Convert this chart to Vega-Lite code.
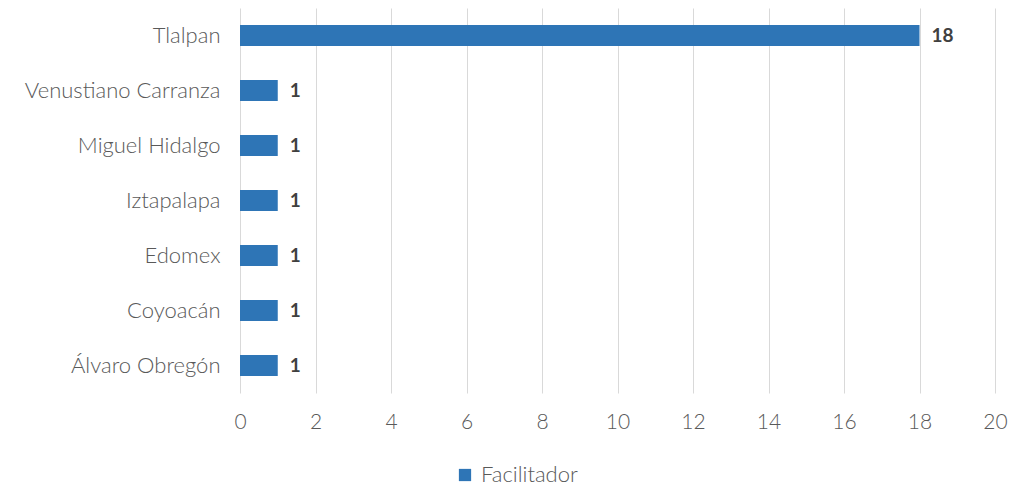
{
  "$schema": "https://vega.github.io/schema/vega-lite/v6.json",
  "autosize": {"type": "none"},
  "padding": {"left": 240, "top": 8, "right": 17, "bottom": 96},
  "width": 755,
  "height": 385,
  "background": "white",
  "config": {
    "font": "Lato",
    "view": {"stroke": null}
  },
  "data": {
    "values": [
      {"municipio": "Tlalpan", "valor": 18, "serie": "Facilitador"},
      {"municipio": "Venustiano Carranza", "valor": 1, "serie": "Facilitador"},
      {"municipio": "Miguel Hidalgo", "valor": 1, "serie": "Facilitador"},
      {"municipio": "Iztapalapa", "valor": 1, "serie": "Facilitador"},
      {"municipio": "Edomex", "valor": 1, "serie": "Facilitador"},
      {"municipio": "Coyoacán", "valor": 1, "serie": "Facilitador"},
      {"municipio": "Álvaro Obregón", "valor": 1, "serie": "Facilitador"}
    ]
  },
  "encoding": {
    "y": {
      "field": "municipio",
      "type": "nominal",
      "sort": null,
      "scale": {"paddingInner": 0.62, "paddingOuter": 0.31},
      "axis": {
        "title": null,
        "domain": false,
        "ticks": false,
        "labelFontSize": 22,
        "labelFontWeight": 300,
        "labelColor": "#595959",
        "labelPadding": 20,
        "labelLimit": 300
      }
    },
    "x": {
      "field": "valor",
      "type": "quantitative",
      "scale": {"domain": [0, 20], "nice": false},
      "axis": {
        "title": null,
        "values": [0, 2, 4, 6, 8, 10, 12, 14, 16, 18, 20],
        "domain": false,
        "ticks": false,
        "grid": true,
        "gridColor": "#d9d9d9",
        "labelFlush": false,
        "labelFontSize": 21,
        "labelFontWeight": 300,
        "labelColor": "#595959",
        "labelPadding": 18
      }
    }
  },
  "layer": [
    {
      "mark": {"type": "bar"},
      "encoding": {
        "color": {
          "field": "serie",
          "type": "nominal",
          "scale": {"range": ["#2E75B6"]},
          "legend": {
            "title": null,
            "orient": "none",
            "legendX": 214,
            "legendY": 456,
            "symbolType": "square",
            "symbolSize": 150,
            "labelFontSize": 22,
            "labelFontWeight": 300,
            "labelColor": "#595959",
            "labelOffset": 5
          }
        }
      }
    },
    {
      "mark": {"type": "text", "align": "left", "dx": 12, "fontWeight": "bold", "fontSize": 19, "color": "#404040"},
      "encoding": {
        "text": {"field": "valor", "type": "quantitative"}
      }
    }
  ]
}
